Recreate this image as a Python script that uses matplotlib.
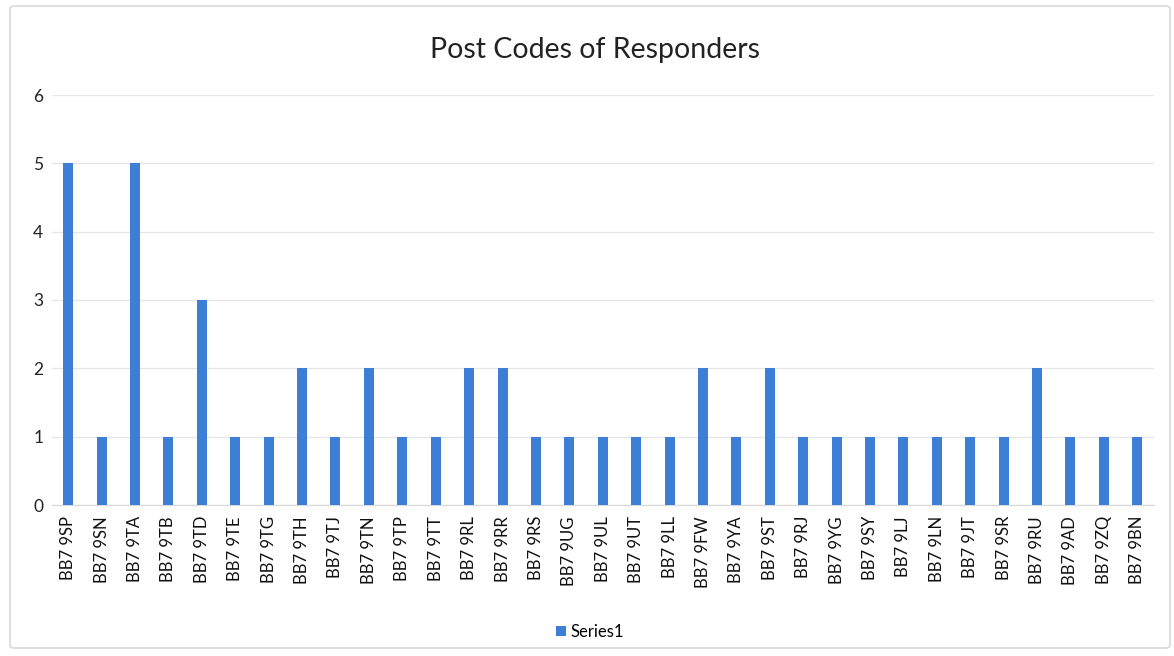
import matplotlib
matplotlib.use("Agg")
import matplotlib.pyplot as plt
from matplotlib.patches import FancyBboxPatch

categories = ["BB7 9SP", "BB7 9SN", "BB7 9TA", "BB7 9TB", "BB7 9TD", "BB7 9TE", "BB7 9TG",
              "BB7 9TH", "BB7 9TJ", "BB7 9TN", "BB7 9TP", "BB7 9TT", "BB7 9RL", "BB7 9RR",
              "BB7 9RS", "BB7 9UG", "BB7 9UL", "BB7 9UT", "BB7 9LL", "BB7 9FW", "BB7 9YA",
              "BB7 9ST", "BB7 9RJ", "BB7 9YG", "BB7 9SY", "BB7 9LJ", "BB7 9LN", "BB7 9JT",
              "BB7 9SR", "BB7 9RU", "BB7 9AD", "BB7 9ZQ", "BB7 9BN"]
values = [5, 1, 5, 1, 3, 1, 1, 2, 1, 2, 1, 1, 2, 2, 1, 1, 1, 1, 1, 2, 1, 2, 1, 1, 1, 1, 1, 1, 1, 2, 1, 1, 1]
yticks = [0, 1, 2, 3, 4, 5, 6]

plt.rcParams['font.family'] = ['Lato', 'DejaVu Sans']

W, H = 1174, 656
fig = plt.figure(figsize=(W / 100, H / 100), dpi=100)
fig.patch.set_facecolor('white')

# chart border
border = FancyBboxPatch((10 / W, 8 / H), (1160 / W), (642 / H),
                        boxstyle="round,pad=0,rounding_size=0.004",
                        transform=fig.transFigure, fill=False,
                        edgecolor='#d9d9d9', linewidth=1.2)
fig.patches.append(border)

left, right = 51.5, 1154
bottom, top = 505, 95
ax = fig.add_axes([left / W, 1 - bottom / H, (right - left) / W, (bottom - top) / H])

x = list(range(len(categories)))
ax.bar(x, values, width=0.3, color='#3d7fd6', label='Series1', zorder=3)
ax.set_xlim(-0.5, len(categories) - 0.5)
ax.set_ylim(0, 6)
ax.set_yticks(yticks)
ax.set_yticklabels([str(t) for t in yticks], fontsize=12.5, color='#222222')
ax.set_xticks(x)
ax.set_xticklabels(categories, rotation=90, fontsize=12, color='#111111')
ax.tick_params(axis='both', length=0)
ax.tick_params(axis='y', pad=6)
ax.tick_params(axis='x', pad=8)
for s in ['top', 'right', 'left']:
    ax.spines[s].set_visible(False)
ax.spines['bottom'].set_color('#d9d9d9')
ax.grid(axis='y', color='#e6e6e6', linewidth=1, zorder=0)
ax.set_axisbelow(True)

fig.text(595 / W, 1 - 50 / H, "Post Codes of Responders", ha='center', va='center',
         fontsize=20.5, color='#222222')

leg = fig.legend(loc='center', bbox_to_anchor=(590 / W, 1 - 632 / H), frameon=False,
                 fontsize=12, handlelength=0.6, handleheight=0.6, handletextpad=0.3)

fig.savefig("out.png", dpi=100, facecolor='white')
